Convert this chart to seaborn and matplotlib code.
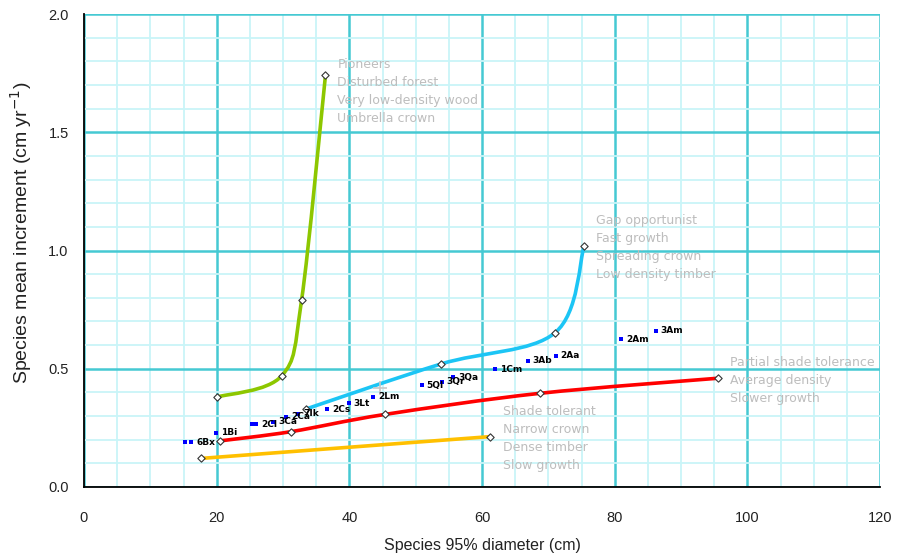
import matplotlib
matplotlib.use("Agg")
import matplotlib.pyplot as plt
from matplotlib.path import Path
from matplotlib.patches import PathPatch
from matplotlib.ticker import MultipleLocator, FormatStrFormatter
import seaborn as sns

# guild curves: species 95% diameter (cm) vs mean increment (cm/yr)
pioneer_x = [20.0, 29.8, 32.8, 36.4]
pioneer_y = [0.38, 0.47, 0.79, 1.74]
gap_x = [33.5, 53.8, 71.0, 75.4]
gap_y = [0.33, 0.52, 0.652, 1.02]
partial_x = [20.5, 31.2, 45.4, 68.7, 95.6]
partial_y = [0.195, 0.234, 0.307, 0.396, 0.46]
shade_x = [17.7, 61.2]
shade_y = [0.121, 0.213]

pioneer_text = ["Pioneers", "Disturbed forest", "Very low-density wood", "Umbrella crown"]
gap_text = ["Gap opportunist", "Fast growth", "Spreading crown", "Low density timber"]
partial_text = ["Partial shade tolerance", "Average density", "Slower growth"]
shade_text = ["Shade tolerant", "Narrow crown", "Dense timber", "Slow growth"]

# individual species
sp_labels = ["", "6Bx", "1Bi", "", "2Cl", "3Ca", "2Ca", "7Ik", "2Cs", "3Lt", "2Lm",
             "5Ql", "3Qr", "3Qa", "1Cm", "3Ab", "2Aa", "2Am", "3Am"]
sp_x = [15.2, 16.2, 19.9, 25.3, 26.0, 28.5, 30.5, 32.3, 36.6, 39.9, 43.6,
        50.9, 53.9, 55.7, 61.9, 66.9, 71.1, 81.0, 86.2]
sp_y = [0.19, 0.19, 0.23, 0.265, 0.265, 0.276, 0.297, 0.309, 0.329, 0.354, 0.382,
        0.431, 0.445, 0.464, 0.498, 0.533, 0.555, 0.624, 0.66]

cross_x = [44.6]
cross_y = [0.417]

xticks = [0, 20, 40, 60, 80, 100, 120]
yticks = [0.0, 0.5, 1.0, 1.5, 2.0]


def smooth_path(xs, ys):
    # excel-like smoothed line (cubic bezier through the points)
    pts = list(zip(xs, ys))
    n = len(pts)
    verts = [pts[0]]
    codes = [Path.MOVETO]
    for i in range(n - 1):
        p0 = pts[max(i - 1, 0)]
        p1 = pts[i]
        p2 = pts[i + 1]
        p3 = pts[min(i + 2, n - 1)]
        c1 = (p1[0] + (p2[0] - p0[0]) / 6, p1[1] + (p2[1] - p0[1]) / 6)
        c2 = (p2[0] - (p3[0] - p1[0]) / 6, p2[1] - (p3[1] - p1[1]) / 6)
        verts += [c1, c2, p2]
        codes += [Path.CURVE4] * 3
    return Path(verts, codes)


sns.set_style("white")
plt.rcParams["font.family"] = ["Liberation Sans", "DejaVu Sans"]

fig = plt.figure(figsize=(9.08, 5.56), dpi=100)
ax = fig.add_axes([84 / 908, 1 - 487 / 556, 796 / 908, 473 / 556])

# grid
ax.xaxis.set_major_locator(MultipleLocator(20))
ax.xaxis.set_minor_locator(MultipleLocator(5))
ax.yaxis.set_major_locator(MultipleLocator(0.5))
ax.yaxis.set_minor_locator(MultipleLocator(0.1))
ax.grid(which="minor", color="#C9F5F8", lw=1.3, zorder=0)
ax.grid(which="major", color="#45C9D3", lw=1.8, zorder=0)
ax.set_axisbelow(True)

curves = [
    (pioneer_x, pioneer_y, "#8DC700"),
    (gap_x, gap_y, "#1CC5F5"),
    (partial_x, partial_y, "#FF0000"),
    (shade_x, shade_y, "#FFC000"),
]
for xs, ys, col in curves:
    ax.add_patch(PathPatch(smooth_path(xs, ys), facecolor="none", edgecolor=col,
                           lw=2.6, capstyle="butt", zorder=3))
    sns.scatterplot(x=xs, y=ys, marker="D", s=14, color="white",
                    edgecolor="#333333", linewidth=0.8, zorder=5, ax=ax)

sns.scatterplot(x=cross_x, y=cross_y, marker="+", s=90, color="#C8C8C8",
                linewidth=1.2, zorder=6, ax=ax)

sns.scatterplot(x=sp_x, y=sp_y, marker="s", s=12, color="#0000FF",
                linewidth=0, zorder=6, ax=ax)
for lab, x, y in zip(sp_labels, sp_x, sp_y):
    if lab:
        ax.annotate(lab, (x, y), xytext=(5, 0), textcoords="offset pixels",
                    fontsize=6.5, fontweight="bold", va="center", ha="left",
                    color="black", family="DejaVu Sans", zorder=7)

# guild descriptions next to curve ends
blocks = [
    (pioneer_x[-1], pioneer_y[-1], pioneer_text, 12, 11),
    (gap_x[-1], gap_y[-1], gap_text, 12, 25),
    (partial_x[-1], partial_y[-1], partial_text, 12, 16),
    (shade_x[-1], shade_y[-1], shade_text, 13, 25),
]
for x, y, lines, dx, dy in blocks:
    for k, line in enumerate(lines):
        ax.annotate(line, (x, y), xytext=(dx, dy - 18 * k), textcoords="offset pixels",
                    fontsize=9, color="#BDBDBD", va="center", ha="left",
                    family="DejaVu Sans", zorder=7)

ax.set_xlim(0, 120)
ax.set_ylim(0, 2.0)
ax.set_xticks(xticks)
ax.set_yticks(yticks)
ax.yaxis.set_major_formatter(FormatStrFormatter("%.1f"))

for s in ["top", "right"]:
    ax.spines[s].set_visible(False)
for s in ["left", "bottom"]:
    ax.spines[s].set_color("black")
    ax.spines[s].set_linewidth(1.3)
    ax.spines[s].set_zorder(8)

ax.tick_params(which="major", direction="inout", length=8, width=1.1, color="black",
               labelsize=10.5, labelcolor="#222222")
ax.tick_params(axis="x", pad=13)
ax.tick_params(axis="y", pad=7)
ax.tick_params(which="minor", length=0)

ax.set_xlabel("Species 95% diameter (cm)", fontsize=11.5, color="#222222")
ax.set_ylabel("Species mean increment (cm yr$^{-1}$)", fontsize=14, color="#222222")
ax.xaxis.set_label_coords(0.5, -0.108)
ax.yaxis.set_label_coords(-0.063, 0.538)

fig.savefig("out.png", dpi=100)
